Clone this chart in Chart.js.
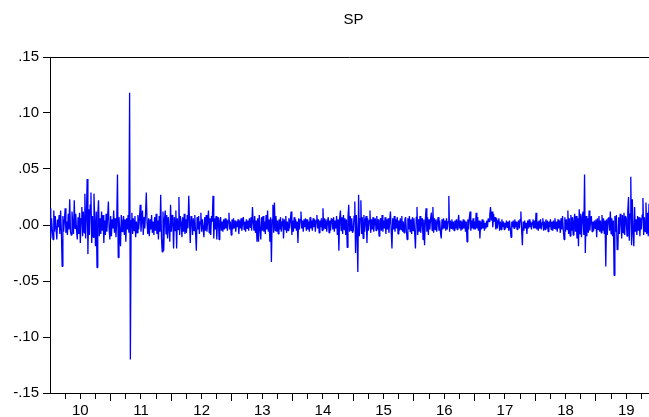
<!DOCTYPE html>
<html>
<head>
<meta charset="utf-8">
<title>SP</title>
<script src="https://cdn.jsdelivr.net/npm/chart.js@4"></script>
<style>
  html, body { margin: 0; padding: 0; background: #fff; }
  canvas { display: block; }
</style>
</head>
<body>
<canvas id="chart" width="649" height="417"></canvas>
<script>
'use strict';

const chartTitle = 'SP';
const firstYear = 2010;
const pointsPerYear = 80;
const yTicks = [-0.15, -0.10, -0.05, 0.00, 0.05, 0.10, 0.15];

// daily returns, in thousandths (0.001)
const r2010 = [15,-12,6,-4,-13,13,-6,8,-3,-13,5,-2,9,-8,13,-5,-37,8,-6,4,
    15,-7,3,-9,10,-4,23,-6,-9,12,2,-8,22,-3,10,-5,-13,7,-8,11,
    -16,6,16,-10,12,-7,28,-12,9,41,-26,14,-9,18,29,-16,8,-11,28,4,
    -19,12,-38,9,22,-10,6,-8,12,-5,9,-16,4,-9,10,-6,7,21,-4,-13];
const r2011 = [8,-10,5,-3,13,-7,6,-11,4,45,-29,7,-5,-19,9,-6,3,8,-9,5,
    -15,6,-4,9,-7,118,-120,4,11,-8,6,-5,8,-11,3,-7,9,-4,6,18,
    -6,4,13,-9,7,-3,10,29,2,-8,6,-10,5,-4,9,-7,3,-9,7,-5,
    10,-8,4,-13,8,-6,27,-11,-24,12,-23,6,13,-8,9,-12,7,-4,-15,18];
const r2012 = [-6,9,3,-21,7,-5,13,-21,6,-4,25,-9,8,2,-11,7,-6,10,-8,5,
    -7,9,-3,26,4,-16,8,5,-9,6,-5,9,-7,-23,7,-4,8,-8,3,11,
    -6,5,-3,-11,7,-5,9,-6,4,13,-7,6,-9,8,3,26,-12,6,-4,8,
    -13,5,7,-13,4,7,-5,3,-6,5,-4,6,-3,5,-5,4,11,-4,3,-9];
const r2013 = [5,-4,6,-3,4,-6,3,-2,5,-8,4,-3,6,-5,2,7,-4,3,-6,5,
    -3,4,-5,6,-2,7,-5,16,3,-5,8,-7,4,-15,6,-15,9,-4,-13,7,
    -5,8,-6,3,-8,9,-4,13,-6,5,-15,7,-33,5,18,-7,20,-5,8,-6,
    4,-8,5,-4,7,-6,3,6,-12,5,-4,8,-7,3,-5,6,-3,5,12,-9];
const r2014 = [4,-6,7,-3,5,-5,3,-16,6,-4,5,12,-3,4,-6,5,-2,6,-5,5,
    -4,3,-6,7,-3,4,-5,6,-2,5,-6,4,9,-3,5,-7,4,-2,6,-5,
    15,-4,6,-3,5,-6,3,7,-7,4,-5,6,5,-4,7,-6,4,-3,8,-9,
    5,-23,6,13,-5,7,-8,9,-4,6,-9,5,-20,7,18,-6,8,-5,6,-7];
const r2015 = [-5,8,21,-25,9,-7,-42,27,-10,6,22,-8,7,-12,9,-6,5,8,-16,6,
    -5,4,13,-7,5,-4,7,-6,3,6,-5,8,-4,5,-10,4,6,-5,9,-6,
    4,-3,7,-8,5,-4,6,-7,4,12,-5,-21,6,-4,8,-6,5,-3,7,-8,
    4,-5,6,-4,8,-6,3,-7,5,7,-5,-13,6,-4,8,-6,5,-8,7,-5];
const r2016 = [6,-8,-21,7,16,-9,5,-6,8,-7,4,6,-13,5,-18,4,15,-6,7,-9,
    5,-4,6,11,-5,16,-7,6,-4,5,-6,3,7,-5,4,-7,-12,5,-4,6,
    -3,4,-5,6,-4,3,26,-6,4,-3,5,-4,3,-5,4,-3,5,-4,3,9,
    -3,4,-5,3,-4,5,-3,4,-6,3,-15,5,-4,6,12,-5,4,-3,6,-4];
const r2017 = [3,-4,11,-3,7,-5,4,-12,3,-4,5,-3,4,-5,2,-3,4,-2,6,3,
    9,16,4,12,-2,10,3,7,-4,6,-3,4,6,-5,3,-4,5,-2,3,-4,
    2,-3,4,-2,3,-5,4,-3,-11,3,-2,4,-3,5,-2,3,-4,2,4,-3,
    5,12,-4,-18,3,-5,4,-3,2,-8,4,-3,5,-2,3,-4,2,5,-3,4];
const r2018 = [-3,11,-4,3,-5,4,-3,5,-4,2,6,-5,3,-4,5,-3,4,-6,3,-2,
    5,-4,3,-5,4,-3,6,-4,3,-6,5,-3,4,-7,6,-4,8,-5,-13,7,
    -6,5,-4,13,-8,6,-10,9,-5,7,-9,4,10,-6,8,-12,6,-19,14,-8,
    10,-11,7,12,-9,45,-25,8,-10,6,-7,13,-5,4,8,-6,3,-5,4,-3];
const r2019 = [5,-11,6,-4,8,-6,4,-7,9,-5,6,-8,4,-37,5,-9,6,7,-5,12,
    -8,6,-10,4,-45,8,-6,9,-22,-21,7,-8,10,5,-12,9,-7,11,-9,8,
    6,-10,12,25,-14,10,43,-18,23,-8,-19,16,-6,5,-9,8,-5,7,-10,6,
    -4,9,24,-9,7,-6,20,-8,11,-10,19];

const yearlyReturns = [r2010, r2011, r2012, r2013, r2014, r2015, r2016, r2017, r2018, r2019];

const points = [];
yearlyReturns.forEach((values, k) => {
    values.forEach((v, i) => {
        points.push({ x: firstYear + k + i / pointsPerYear, y: v / 1000 });
    });
});
const lastX = points[points.length - 1].x;

const fontFamily = '"Liberation Sans", Arial, sans-serif';

const framePlugin = {
    id: 'frameAndTitle',
    afterDraw(chart) {
        const { ctx, chartArea } = chart;
        ctx.save();
        ctx.strokeStyle = '#000';
        ctx.lineWidth = 1;
        ctx.beginPath();
        ctx.moveTo(chartArea.left, Math.round(chartArea.top) + 0.5);
        ctx.lineTo(chartArea.right, Math.round(chartArea.top) + 0.5);
        ctx.stroke();

        ctx.fillStyle = '#000';
        ctx.font = '15px ' + fontFamily;
        ctx.textAlign = 'center';
        ctx.textBaseline = 'alphabetic';
        ctx.fillText(chartTitle, (chartArea.left + chartArea.right) / 2 + 4, 24);
        ctx.restore();
    }
};

new Chart(document.getElementById('chart'), {
    type: 'line',
    data: {
        datasets: [{
            label: chartTitle,
            data: points,
            borderColor: '#0000ff',
            borderWidth: 1.3,
            borderJoinStyle: 'bevel',
            pointRadius: 0,
            tension: 0,
            fill: false
        }]
    },
    options: {
        responsive: false,
        animation: false,
        devicePixelRatio: 1,
        layout: {
            padding: { top: 57, right: 0, left: 0, bottom: 0 }
        },
        plugins: {
            legend: { display: false },
            tooltip: { enabled: false },
            title: { display: false }
        },
        scales: {
            x: {
                type: 'linear',
                min: firstYear,
                max: lastX,
                afterBuildTicks: function (scale) {
                    const ticks = [];
                    for (let v = firstYear + 0.25; v <= lastX; v += 0.25) {
                        ticks.push({ value: v });
                    }
                    scale.ticks = ticks;
                },
                afterFit: function (scale) {
                    scale.height = 24;
                },
                border: { color: '#000', width: 1 },
                grid: {
                    drawOnChartArea: false,
                    tickLength: 8,
                    tickColor: '#000',
                    tickBorderDash: function (c) {
                        return (c.tick && c.tick.value % 1 === 0) ? [] : [5, 20];
                    }
                },
                ticks: {
                    autoSkip: false,
                    maxRotation: 0,
                    padding: 1,
                    color: '#000',
                    font: { family: fontFamily, size: 15 },
                    callback: function (value) {
                        return value % 1 === 0.5 ? String(Math.floor(value) % 100) : '';
                    }
                }
            },
            y: {
                type: 'linear',
                min: yTicks[0],
                max: yTicks[yTicks.length - 1],
                afterBuildTicks: function (scale) {
                    scale.ticks = yTicks.map(v => ({ value: v }));
                },
                afterFit: function (scale) {
                    scale.width = 50;
                },
                border: { color: '#000', width: 1 },
                grid: {
                    drawOnChartArea: false,
                    tickLength: 7,
                    tickColor: '#000'
                },
                ticks: {
                    padding: 4,
                    color: '#000',
                    font: { family: fontFamily, size: 15 },
                    callback: function (value) {
                        return value.toFixed(2).replace('0.', '.');
                    }
                }
            }
        }
    },
    plugins: [framePlugin]
});
</script>
</body>
</html>
